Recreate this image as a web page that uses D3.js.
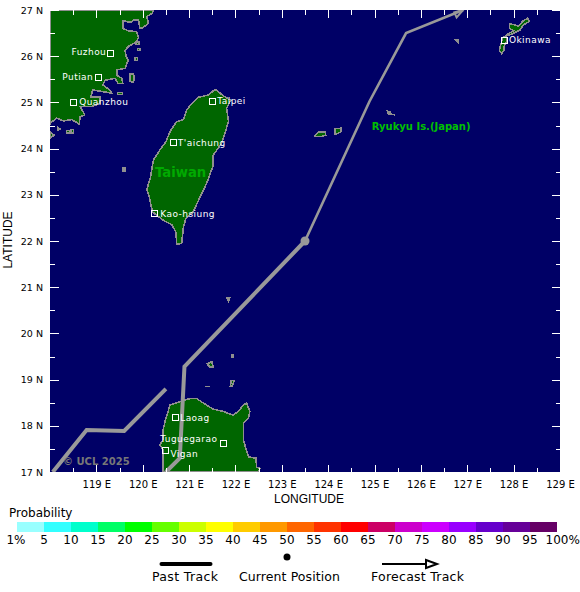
<!DOCTYPE html>
<html><head><meta charset="utf-8">
<script src="https://cdnjs.cloudflare.com/ajax/libs/d3/7.8.5/d3.min.js"></script>
<style>html,body{margin:0;padding:0;background:#fff}svg{display:block}text{font-family:"DejaVu Sans",sans-serif}</style>
</head><body>
<svg id="c" width="580" height="592"></svg>
<script>
const lonTicks=[119,120,121,122,123,124,125,126,127,128,129];
const latTicks=[17,18,19,20,21,22,23,24,25,26,27];
const lonMinor=[118.5,119.5,120.5,121.5,122.5,123.5,124.5,125.5,126.5,127.5,128.5];
const latMinor=[17.5,18.5,19.5,20.5,21.5,22.5,23.5,24.5,25.5,26.5];
const taiwan=[[121.56,25.28],[121.41,25.16],[121.20,25.11],[121.06,24.98],[120.95,24.84],[120.88,24.63],[120.73,24.58],[120.59,24.37],[120.50,24.15],[120.37,23.97],[120.23,23.75],[120.17,23.39],[120.09,23.12],[120.14,22.96],[120.21,22.63],[120.44,22.45],[120.63,22.35],[120.72,22.18],[120.73,21.93],[120.84,21.95],[120.88,22.31],[120.93,22.49],[121.09,22.63],[121.24,22.96],[121.38,23.25],[121.51,23.61],[121.52,23.86],[121.70,24.11],[121.85,24.58],[121.81,24.87],[121.90,25.05],[121.74,25.14],[121.61,25.25]];
const fujian=[[118,27],[120.23,27],[120.21,26.93],[120.09,26.86],[120.12,26.71],[120.01,26.62],[119.94,26.60],[119.91,26.78],[119.80,26.78],[119.73,26.73],[119.57,26.77],[119.57,26.60],[119.69,26.55],[119.87,26.53],[119.91,26.41],[119.86,26.31],[119.69,26.21],[119.62,26.13],[119.64,25.99],[119.69,25.92],[119.62,25.74],[119.44,25.70],[119.44,25.59],[119.55,25.52],[119.57,25.41],[119.47,25.41],[119.40,25.52],[119.19,25.48],[119.14,25.38],[119.29,25.27],[119.33,25.20],[119.15,25.23],[118.92,25.27],[118.88,25.12],[119.08,25.12],[119.08,24.98],[118.90,24.91],[118.65,24.91],[118.75,24.73],[118.65,24.69],[118.63,24.53],[118.47,24.63],[118.29,24.60],[118.14,24.66],[118.01,24.55],[118,24.51]];
const luzon=[[120.44,17],[120.44,17.48],[120.37,17.58],[120.44,17.71],[120.44,17.91],[120.49,18.13],[120.59,18.45],[120.80,18.52],[121.02,18.59],[121.16,18.59],[121.31,18.49],[121.52,18.36],[121.74,18.31],[121.95,18.23],[122.06,18.31],[122.17,18.45],[122.24,18.49],[122.31,18.31],[122.28,18.16],[122.17,18.05],[122.17,17.69],[122.28,17.33],[122.44,17.30],[122.46,17.10],[122.53,17.08],[122.49,17]];
const okinawa=[[128.30,26.82],[128.34,26.75],[128.21,26.68],[128.14,26.57],[127.99,26.49],[127.85,26.44],[127.85,26.31],[127.79,26.21],[127.79,26.12],[127.74,26.06],[127.69,26.13],[127.72,26.24],[127.76,26.39],[127.89,26.49],[128.01,26.55],[127.91,26.60],[127.91,26.70],[128.01,26.68],[128.10,26.65],[128.21,26.77]];
const miyako=[[123.72,24.29],[123.79,24.36],[123.93,24.36],[123.95,24.29],[123.86,24.26],[123.72,24.26]];
const ishigaki=[[124.15,24.43],[124.27,24.44],[124.27,24.36],[124.19,24.32],[124.15,24.32]];
const islets=[[[125.28,24.81],[125.33,24.80],[125.36,24.74],[125.44,24.73],[125.30,24.75]],[[126.75,26.36],[126.80,26.36],[126.80,26.31]],[[121.93,19.54],[121.96,19.54],[121.96,19.49],[121.93,19.49]],[[121.39,19.34],[121.49,19.39],[121.52,19.27],[121.45,19.27]],[[121.89,18.86],[121.91,18.98],[121.97,18.98],[121.93,18.86]],[[121.35,18.85],[121.46,18.85]],[[121.82,20.76],[121.87,20.76],[121.85,20.70]],[[119.58,23.58],[119.62,23.58],[119.62,23.51],[119.58,23.51]],[[118,24.37],[118.09,24.29],[118,24.22]],[[118.16,24.47],[118.22,24.42],[118.16,24.39]],[[118.36,24.39],[118.42,24.39],[118.42,24.34],[118.36,24.34]],[[118.45,24.41],[118.51,24.41],[118.51,24.34],[118.45,24.34]],[[119.85,26.31],[119.92,26.31],[119.92,26.25],[119.85,26.25]],[[119.89,26.17],[119.94,26.17],[119.94,26.12],[119.89,26.12]],[[119.83,25.97],[119.89,25.97],[119.89,25.91],[119.83,25.91]],[[119.73,25.62],[119.80,25.62],[119.82,25.55],[119.80,25.44],[119.73,25.45]],[[119.46,25.21],[119.56,25.21],[119.56,25.17],[119.46,25.17]]];
const pastA=[[118.06,17],[118.79,17.91],[119.60,17.89],[120.50,18.80]];
const pastB=[[120.50,17],[120.80,17.30],[120.90,19.28],[123.5,22]];
const forecast=[[123.5,22],[124.89,25.02],[125.68,26.50],[126.91,27]];
const arrowHead=[[126.72,26.95],[126.77,26.84],[126.91,27]];
const current=[123.5,22];
const cities=["Fuzhou","Putian","Quanzhou","Taipei","T'aichung","Kao-hsiung","Okinawa","Laoag","Tuguegarao","Vigan"];
const cityLon=[119.30,119.04,118.50,121.50,120.65,120.25,127.79,120.70,121.74,120.49];
const cityLat=[26.06,25.54,25.00,25.04,24.14,22.60,26.35,18.18,17.62,17.48];
const cityDx=[-4,-5,6,5,5,6,5,5,-6,5];
const cityDy=[2,3,3,3,4,4,3,4,-1,7];
const cityAnchor=["end","end","start","start","start","start","start","start","end","start"];
const probLabels=["1%","5","10","15","20","25","30","35","40","45","50","55","60","65","70","75","80","85","90","95","100%"];
const probColors=["#99ffff","#33ffff","#00ffcc","#00ff66","#00ff00","#66ff00","#ccff00","#ffff00","#ffcc00","#ff9900","#ff6600","#ff3300","#ff0000","#cc0066","#cc00cc","#cc00ff","#9900ff","#6600cc","#660099","#660066"];
const probIdx=d3.range(probLabels.length);

const svg=d3.select("#c");
const x=d3.scaleLinear().domain([118,129]).range([50,560]);
const y=d3.scaleLinear().domain([17,27]).range([472,10]);
const line=d3.line().x(d=>x(d[0])).y(d=>y(d[1]));
const closed=d=>line(d)+"Z";

svg.append("clipPath").attr("id","p").append("rect").attr("x",50).attr("y",10).attr("width",510).attr("height",462);
svg.append("rect").attr("x",50).attr("y",10).attr("width",510).attr("height",462).attr("fill","#000066");
const map=svg.append("g").attr("clip-path","url(#p)");
map.selectAll("path.land").data([taiwan,fujian,luzon,okinawa,miyako,ishigaki,...islets]).join("path").attr("class","land")
  .attr("d",closed).attr("fill","#006600").attr("stroke","#8f8f8f").attr("stroke-width",1.6).attr("shape-rendering","crispEdges");

const T="#999999";
map.selectAll("path.past").data([pastA,pastB]).join("path").attr("class","past").attr("d",line).attr("fill","none").attr("stroke",T).attr("stroke-width",4);
map.append("path").attr("d",line(forecast)).attr("fill","none").attr("stroke",T).attr("stroke-width",2.6);
map.append("path").attr("d",closed(arrowHead)).attr("fill","none").attr("stroke",T).attr("stroke-width",2);
map.append("circle").attr("cx",x(current[0])).attr("cy",y(current[1])).attr("r",4.5).attr("fill",T);

function ticks(gen,vals,size,tr){
  const g=svg.append("g").attr("transform",tr).call(gen.tickValues(vals).tickSizeInner(size).tickSizeOuter(0).tickFormat(""));
  g.select(".domain").remove();
  g.selectAll("line").attr("stroke","#fff").attr("stroke-width",1).attr("shape-rendering","crispEdges");
  return g;
}
ticks(d3.axisTop(x),lonTicks,-8,"translate(0,10)");
ticks(d3.axisTop(x),lonMinor,-4.5,"translate(0,10)");
ticks(d3.axisBottom(x),lonTicks,-7,"translate(0,472)");
ticks(d3.axisBottom(x),lonMinor,-4,"translate(0,472)");
ticks(d3.axisLeft(y),latTicks,-9,"translate(50,0)");
ticks(d3.axisLeft(y),latMinor,-5,"translate(50,0)");
ticks(d3.axisRight(y),latTicks,-8,"translate(560,0)");
ticks(d3.axisRight(y),latMinor,-4,"translate(560,0)");

const gx=svg.append("g").attr("transform","translate(0,472)").call(d3.axisBottom(x).tickValues(lonTicks).tickSize(0).tickPadding(9).tickFormat(d=>d+" E"));
gx.select(".domain").remove();
gx.selectAll("text").attr("fill","#000").style("font-size","10px").style("font-family","DejaVu Sans");
const gy=svg.append("g").attr("transform","translate(50,0)").call(d3.axisLeft(y).tickValues(latTicks).tickSize(0).tickPadding(7).tickFormat(d=>d+" N"));
gy.select(".domain").remove();
gy.selectAll("text").attr("fill","#000").style("font-size","9.5px").style("font-family","DejaVu Sans");

const ci=d3.range(cities.length);
svg.selectAll("rect.city").data(ci).join("rect").attr("class","city")
  .attr("x",i=>Math.round(x(cityLon[i]))-3).attr("y",i=>Math.round(y(cityLat[i]))-3).attr("width",6).attr("height",6)
  .attr("fill","none").attr("stroke","#fff").attr("stroke-width",1).attr("shape-rendering","crispEdges");
svg.selectAll("text.city").data(ci).join("text").attr("class","city")
  .attr("x",i=>x(cityLon[i])+cityDx[i]).attr("y",i=>y(cityLat[i])+cityDy[i])
  .attr("text-anchor",i=>cityAnchor[i]).attr("fill","#fff").style("font-size","9px").style("letter-spacing","0.45px").text(i=>cities[i]);

svg.append("text").attr("x",155).attr("y",y(23.4)+0.5).attr("fill","#00aa00").style("font-size","13.2px").style("font-weight","bold").text("Taiwan");
svg.append("text").attr("x",x(124.94)).attr("y",y(24.4)).attr("fill","#00c000").style("font-size","10px").style("font-weight","bold").text("Ryukyu Is.(Japan)");
svg.append("text").attr("x",x(118.28)).attr("y",y(17.15)).attr("fill","#777777").style("font-size","10px").style("font-weight","bold").text("© UCL 2025");

svg.append("text").attr("x",309).attr("y",503).attr("text-anchor","middle").attr("fill","#000").style("font-family","Liberation Sans").style("font-size","12px").text("LONGITUDE");
svg.append("text").attr("transform","translate(12,240) rotate(-90)").attr("text-anchor","middle").attr("fill","#000").style("font-family","Liberation Sans").style("font-size","12px").text("LATITUDE");

const lx=d3.scaleLinear().domain([0,20]).range([17,557]);
svg.append("text").attr("x",9).attr("y",517).attr("fill","#000").style("font-size","12px").text("Probability");
svg.selectAll("rect.leg").data(probColors).join("rect").attr("class","leg").attr("x",(d,i)=>lx(i)).attr("y",522).attr("width",(d,i)=>lx(i+1)-lx(i)).attr("height",10).attr("fill",d=>d).attr("shape-rendering","crispEdges");
svg.selectAll("text.leg").data(probIdx).join("text").attr("class","leg")
  .attr("x",i=>i===20?lx(i)-11.5:lx(i)-(i===0?1:0)).attr("y",544)
  .attr("text-anchor",i=>i===20?"start":"middle").attr("fill","#000").style("font-size","12px").text(i=>probLabels[i]);
svg.append("line").attr("x1",161.5).attr("x2",210.5).attr("y1",564).attr("y2",564).attr("stroke","#000").attr("stroke-width",4).attr("stroke-linecap","round");
svg.append("circle").attr("cx",287).attr("cy",557).attr("r",3.5).attr("fill","#000");
svg.append("line").attr("x1",382).attr("x2",427).attr("y1",564).attr("y2",564).attr("stroke","#000").attr("stroke-width",2);
svg.append("path").attr("d","M426,560L437,564L426,568Z").attr("fill","none").attr("stroke","#000").attr("stroke-width",2);
[["Past Track",152,66],["Current Position",239,101],["Forecast Track",371,93]].forEach(d=>svg.append("text").attr("x",d[1]).attr("y",581).attr("textLength",d[2]).attr("fill","#000").style("font-size","12.5px").text(d[0]));
</script>
</body></html>
